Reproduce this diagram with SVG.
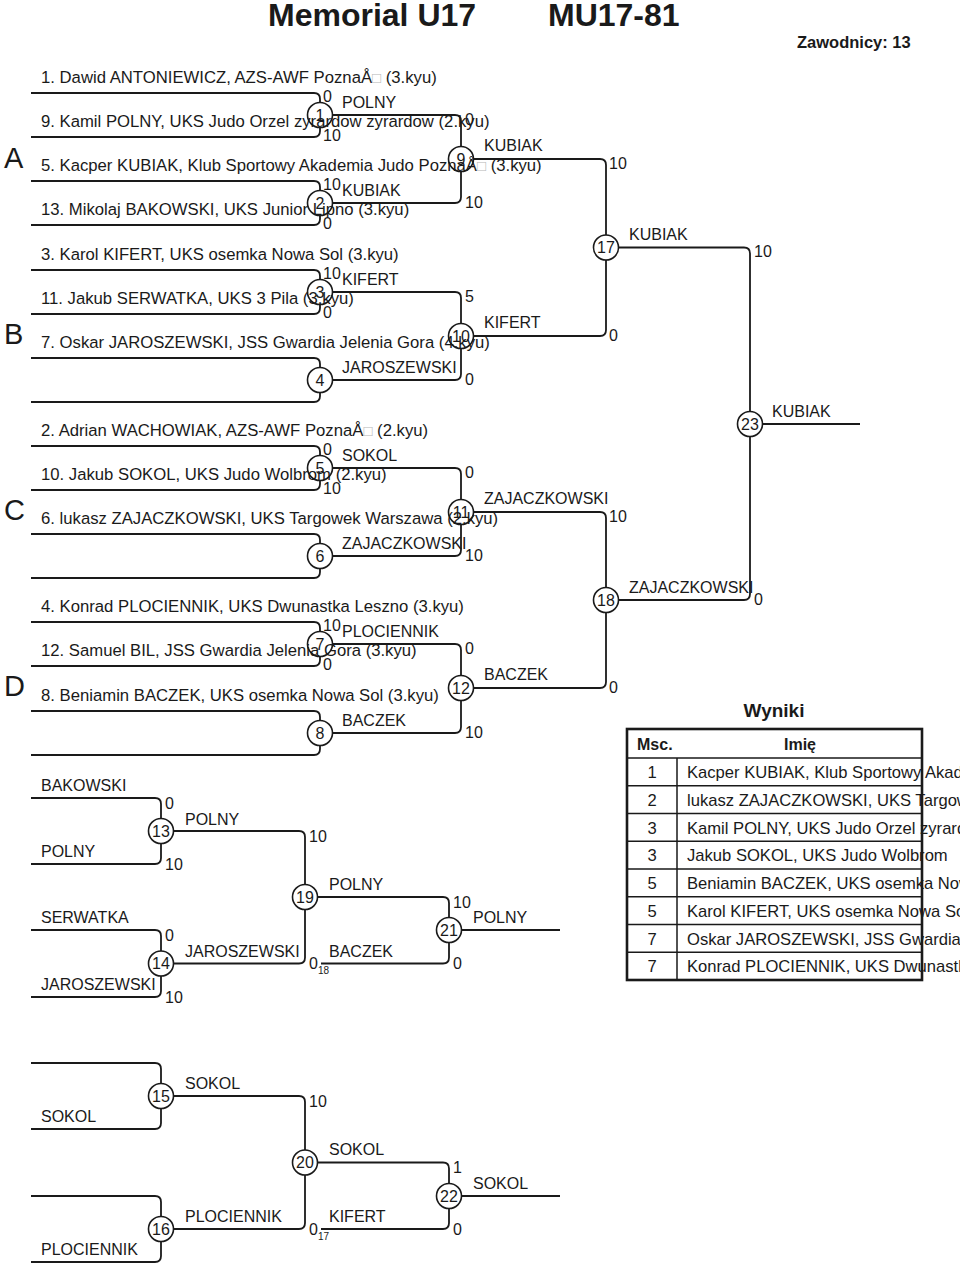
<svg xmlns="http://www.w3.org/2000/svg" width="960" height="1264" viewBox="0 0 960 1264">
<style>
text{font-family:"Liberation Sans",Arial,Helvetica,sans-serif;fill:#1a1a1a;font-size:16px}
.ln{fill:none;stroke:#1a1a1a;stroke-width:1.8}
.c{fill:#fff;stroke:#1a1a1a;stroke-width:1.6}
.n{font-size:16px;text-anchor:middle}
.b{font-weight:bold}
.big{font-size:29px}
.sub{font-size:10px}
.e{font-size:16.7px}
.box{fill:#b8b8b8;font-size:15px}
.tb{fill:none;stroke:#1a1a1a;stroke-width:1.5}
.tbo{fill:none;stroke:#1a1a1a;stroke-width:2.6}
.mid{text-anchor:middle}
.rt{font-size:16.6px}
</style>
<rect width="960" height="1264" fill="#fff"/>
<g id="header">
<text x="268" y="26" class="b" style="font-size:32px">Memorial U17</text>
<text x="548" y="26" class="b" style="font-size:32px">MU17-81</text>
<text x="797" y="48" class="b" style="font-size:16.5px">Zawodnicy: 13</text>
<text x="4" y="168" class="big">A</text>
<text x="4" y="344" class="big">B</text>
<text x="4" y="520" class="big">C</text>
<text x="4" y="696" class="big">D</text>
</g>
<g id="connectors">
<path class="ln" d="M31,93H314Q320,93 320,99V131Q320,137 314,137H31"/>
<path class="ln" d="M31,181H314Q320,181 320,187V219Q320,225 314,225H31"/>
<path class="ln" d="M31,270H314Q320,270 320,276V308Q320,314 314,314H31"/>
<path class="ln" d="M31,358H314Q320,358 320,364V396Q320,402 314,402H31"/>
<path class="ln" d="M31,446H314Q320,446 320,452V484Q320,490 314,490H31"/>
<path class="ln" d="M31,534H314Q320,534 320,540V572Q320,578 314,578H31"/>
<path class="ln" d="M31,622H314Q320,622 320,628V660Q320,666 314,666H31"/>
<path class="ln" d="M31,711H314Q320,711 320,717V749Q320,755 314,755H31"/>
<path class="ln" d="M320,115H455Q461,115 461,121V197Q461,203 455,203H320"/>
<path class="ln" d="M320,292H455Q461,292 461,298V374Q461,380 455,380H320"/>
<path class="ln" d="M320,468H455Q461,468 461,474V550Q461,556 455,556H320"/>
<path class="ln" d="M320,644H455Q461,644 461,650V727Q461,733 455,733H320"/>
<path class="ln" d="M461,159H600Q606,159 606,165V330Q606,336 600,336H461"/>
<path class="ln" d="M461,512H600Q606,512 606,518V682Q606,688 600,688H461"/>
<path class="ln" d="M606,247.5H744Q750,247.5 750,253.5V594Q750,600 744,600H606"/>
<path class="ln" d="M750,424H860"/>
<path class="ln" d="M31,798H155Q161,798 161,804V858Q161,864 155,864H31"/>
<path class="ln" d="M31,930H155Q161,930 161,936V991Q161,997 155,997H31"/>
<path class="ln" d="M161,831H299Q305,831 305,837V957.5Q305,963.5 299,963.5H161"/>
<path class="ln" d="M305,897H443Q449,897 449,903V957.5Q449,963.5 443,963.5H321"/>
<path class="ln" d="M449,930H560"/>
<path class="ln" d="M31,1063H155Q161,1063 161,1069V1123Q161,1129 155,1129H31"/>
<path class="ln" d="M31,1196H155Q161,1196 161,1202V1256Q161,1262 155,1262H31"/>
<path class="ln" d="M161,1096H299Q305,1096 305,1102V1223Q305,1229 299,1229H161"/>
<path class="ln" d="M305,1162.5H443Q449,1162.5 449,1168.5V1223Q449,1229 443,1229H321"/>
<path class="ln" d="M449,1196H560"/>
</g>
<g id="m1"><circle class="c" cx="320" cy="115" r="12.5"/><text class="n" x="320" y="120.8">1</text><text x="342" y="108">POLNY</text><text x="323" y="102">0</text><text x="323" y="141">10</text></g>
<g id="m2"><circle class="c" cx="320" cy="203" r="12.5"/><text class="n" x="320" y="208.8">2</text><text x="342" y="196">KUBIAK</text><text x="323" y="190">10</text><text x="323" y="229">0</text></g>
<g id="m3"><circle class="c" cx="320" cy="292" r="12.5"/><text class="n" x="320" y="297.8">3</text><text x="342" y="285">KIFERT</text><text x="323" y="279">10</text><text x="323" y="318">0</text></g>
<g id="m4"><circle class="c" cx="320" cy="380" r="12.5"/><text class="n" x="320" y="385.8">4</text><text x="342" y="373">JAROSZEWSKI</text></g>
<g id="m5"><circle class="c" cx="320" cy="468" r="12.5"/><text class="n" x="320" y="473.8">5</text><text x="342" y="461">SOKOL</text><text x="323" y="455">0</text><text x="323" y="494">10</text></g>
<g id="m6"><circle class="c" cx="320" cy="556" r="12.5"/><text class="n" x="320" y="561.8">6</text><text x="342" y="549">ZAJACZKOWSKI</text></g>
<g id="m7"><circle class="c" cx="320" cy="644" r="12.5"/><text class="n" x="320" y="649.8">7</text><text x="342" y="637">PLOCIENNIK</text><text x="323" y="631">10</text><text x="323" y="670">0</text></g>
<g id="m8"><circle class="c" cx="320" cy="733" r="12.5"/><text class="n" x="320" y="738.8">8</text><text x="342" y="726">BACZEK</text></g>
<g id="m9"><circle class="c" cx="461" cy="159" r="12.5"/><text class="n" x="461" y="164.8">9</text><text x="484" y="151">KUBIAK</text><text x="465" y="125">0</text><text x="465" y="208">10</text></g>
<g id="m10"><circle class="c" cx="461" cy="336" r="12.5"/><text class="n" x="461" y="341.8">10</text><text x="484" y="328">KIFERT</text><text x="465" y="302">5</text><text x="465" y="385">0</text></g>
<g id="m11"><circle class="c" cx="461" cy="512" r="12.5"/><text class="n" x="461" y="517.8">11</text><text x="484" y="504">ZAJACZKOWSKI</text><text x="465" y="478">0</text><text x="465" y="561">10</text></g>
<g id="m12"><circle class="c" cx="461" cy="688" r="12.5"/><text class="n" x="461" y="693.8">12</text><text x="484" y="680">BACZEK</text><text x="465" y="654">0</text><text x="465" y="738">10</text></g>
<g id="m17"><circle class="c" cx="606" cy="247.5" r="12.5"/><text class="n" x="606" y="253.3">17</text><text x="629" y="240">KUBIAK</text><text x="609" y="169">10</text><text x="609" y="341">0</text></g>
<g id="m18"><circle class="c" cx="606" cy="600" r="12.5"/><text class="n" x="606" y="605.8">18</text><text x="629" y="593">ZAJACZKOWSKI</text><text x="609" y="522">10</text><text x="609" y="693">0</text></g>
<g id="m23"><circle class="c" cx="750" cy="424" r="12.5"/><text class="n" x="750" y="429.8">23</text><text x="772" y="417">KUBIAK</text><text x="754" y="257">10</text><text x="754" y="605">0</text></g>
<g id="m13"><circle class="c" cx="161" cy="831" r="12.5"/><text class="n" x="161" y="836.8">13</text><text x="185" y="825">POLNY</text><text x="165" y="809">0</text><text x="165" y="870">10</text></g>
<g id="m14"><circle class="c" cx="161" cy="963.5" r="12.5"/><text class="n" x="161" y="969.3">14</text><text x="185" y="957">JAROSZEWSKI</text><text x="165" y="941">0</text><text x="165" y="1003">10</text></g>
<g id="m19"><circle class="c" cx="305" cy="897" r="12.5"/><text class="n" x="305" y="902.8">19</text><text x="329" y="890">POLNY</text><text x="309" y="842">10</text><text x="309" y="969">0</text><text x="318" y="974" class="sub">18</text><text x="329" y="957">BACZEK</text></g>
<g id="m21"><circle class="c" cx="449" cy="930" r="12.5"/><text class="n" x="449" y="935.8">21</text><text x="473" y="923">POLNY</text><text x="453" y="908">10</text><text x="453" y="969">0</text></g>
<g id="m15"><circle class="c" cx="161" cy="1096" r="12.5"/><text class="n" x="161" y="1101.8">15</text><text x="185" y="1089">SOKOL</text></g>
<g id="m16"><circle class="c" cx="161" cy="1229" r="12.5"/><text class="n" x="161" y="1234.8">16</text><text x="185" y="1222">PLOCIENNIK</text></g>
<g id="m20"><circle class="c" cx="305" cy="1162.5" r="12.5"/><text class="n" x="305" y="1168.3">20</text><text x="329" y="1155">SOKOL</text><text x="309" y="1107">10</text><text x="309" y="1235">0</text><text x="318" y="1240" class="sub">17</text><text x="329" y="1222">KIFERT</text></g>
<g id="m22"><circle class="c" cx="449" cy="1196" r="12.5"/><text class="n" x="449" y="1201.8">22</text><text x="473" y="1189">SOKOL</text><text x="453" y="1173">1</text><text x="453" y="1235">0</text></g>
<g id="entrants">
<text x="41" y="83" class="e">1. Dawid ANTONIEWICZ, AZS-AWF PoznaÅ<tspan class="box">□</tspan> (3.kyu)</text>
<text x="41" y="127" class="e">9. Kamil POLNY, UKS Judo Orzel zyrardow zyrardow (2.kyu)</text>
<text x="41" y="171" class="e">5. Kacper KUBIAK, Klub Sportowy Akademia Judo PoznaÅ<tspan class="box">□</tspan> (3.kyu)</text>
<text x="41" y="215" class="e">13. Mikolaj BAKOWSKI, UKS Junior Lipno (3.kyu)</text>
<text x="41" y="260" class="e">3. Karol KIFERT, UKS osemka Nowa Sol (3.kyu)</text>
<text x="41" y="304" class="e">11. Jakub SERWATKA, UKS 3 Pila (3.kyu)</text>
<text x="41" y="348" class="e">7. Oskar JAROSZEWSKI, JSS Gwardia Jelenia Gora (4.kyu)</text>
<text x="41" y="436" class="e">2. Adrian WACHOWIAK, AZS-AWF PoznaÅ<tspan class="box">□</tspan> (2.kyu)</text>
<text x="41" y="480" class="e">10. Jakub SOKOL, UKS Judo Wolbrom (2.kyu)</text>
<text x="41" y="524" class="e">6. lukasz ZAJACZKOWSKI, UKS Targowek Warszawa (2.kyu)</text>
<text x="41" y="612" class="e">4. Konrad PLOCIENNIK, UKS Dwunastka Leszno (3.kyu)</text>
<text x="41" y="656" class="e">12. Samuel BIL, JSS Gwardia Jelenia Gora (3.kyu)</text>
<text x="41" y="701" class="e">8. Beniamin BACZEK, UKS osemka Nowa Sol (3.kyu)</text>
<text x="41" y="791">BAKOWSKI</text>
<text x="41" y="857">POLNY</text>
<text x="41" y="923">SERWATKA</text>
<text x="41" y="990">JAROSZEWSKI</text>
<text x="41" y="1122">SOKOL</text>
<text x="41" y="1255">PLOCIENNIK</text>
</g>
<g id="results">
<text x="774" y="717" class="b mid" style="font-size:19px">Wyniki</text>
<text x="637" y="750" class="b">Msc.</text>
<text x="800" y="750" class="b mid">Imię</text>
<text x="652" y="778" class="mid rt">1</text><text x="687" y="778" class="rt">Kacper KUBIAK, Klub Sportowy Akademia Judo PoznaÅ</text>
<text x="652" y="805.5" class="mid rt">2</text><text x="687" y="805.5" class="rt">lukasz ZAJACZKOWSKI, UKS Targowek Warszawa</text>
<text x="652" y="833.5" class="mid rt">3</text><text x="687" y="833.5" class="rt">Kamil POLNY, UKS Judo Orzel zyrardow zyrardow</text>
<text x="652" y="861" class="mid rt">3</text><text x="687" y="861" class="rt">Jakub SOKOL, UKS Judo Wolbrom</text>
<text x="652" y="889" class="mid rt">5</text><text x="687" y="889" class="rt">Beniamin BACZEK, UKS osemka Nowa Sol</text>
<text x="652" y="916.5" class="mid rt">5</text><text x="687" y="916.5" class="rt">Karol KIFERT, UKS osemka Nowa Sol</text>
<text x="652" y="944.5" class="mid rt">7</text><text x="687" y="944.5" class="rt">Oskar JAROSZEWSKI, JSS Gwardia Jelenia Gora</text>
<text x="652" y="972" class="mid rt">7</text><text x="687" y="972" class="rt">Konrad PLOCIENNIK, UKS Dwunastka Leszno</text>
<path class="tb" d="M627,758H922M627,785.75H922M627,813.5H922M627,841.25H922M627,869H922M627,896.75H922M627,924.5H922M627,952.25H922M677,758V980"/>
<rect class="tbo" x="627" y="729" width="295" height="251"/>
</g>
</svg>
